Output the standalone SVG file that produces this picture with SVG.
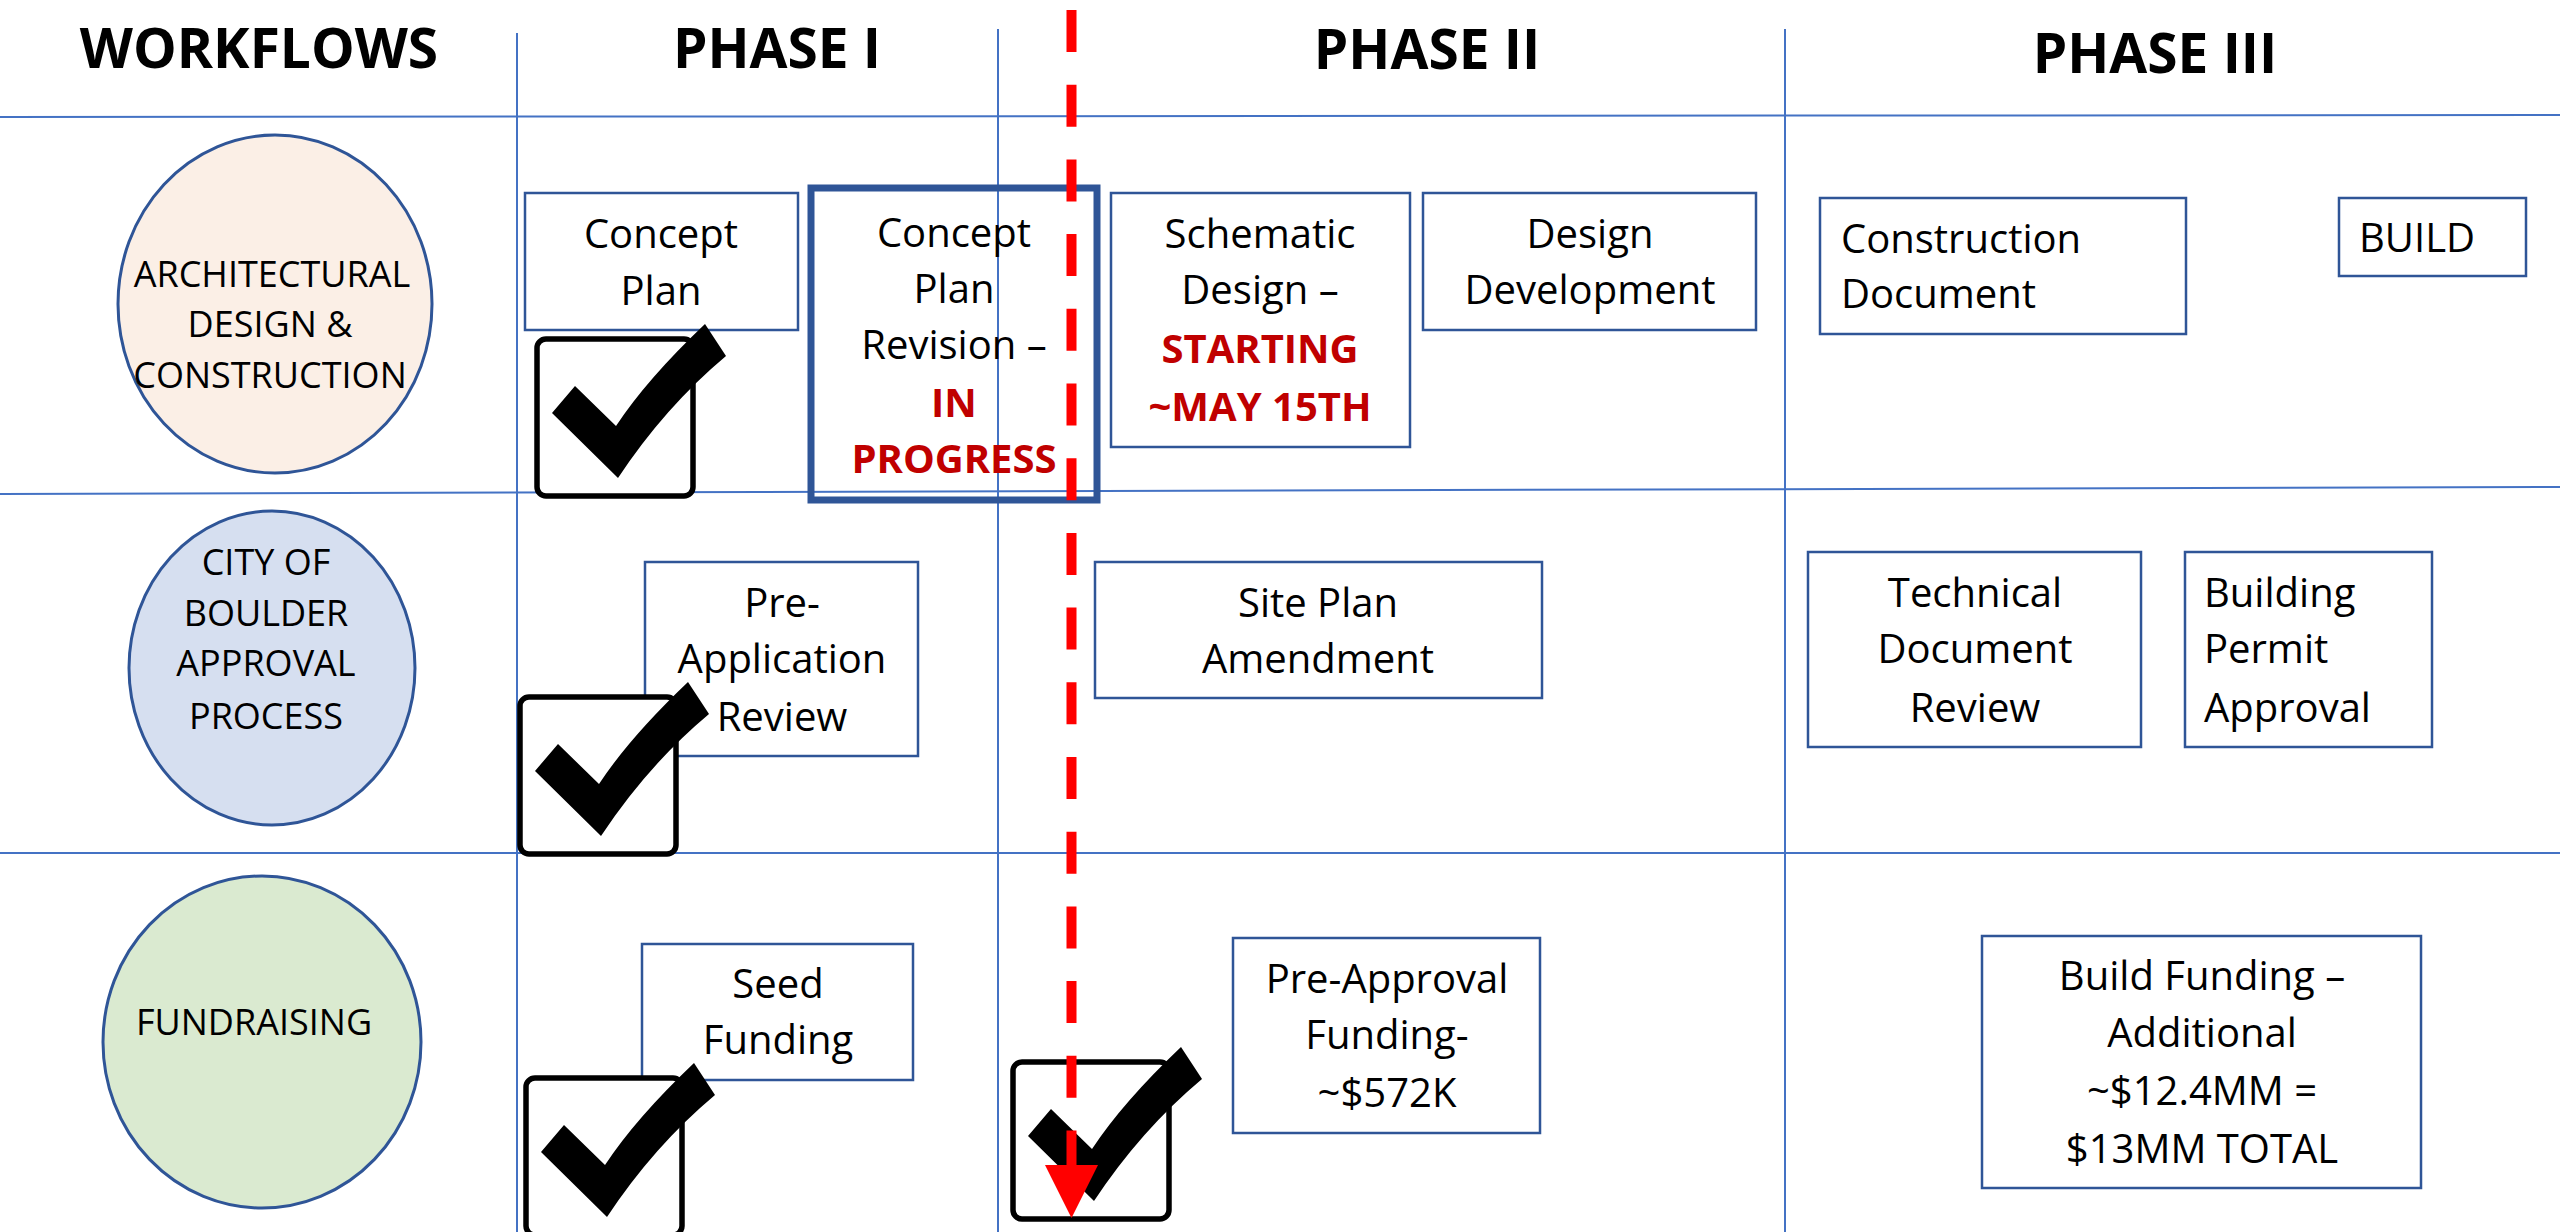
<svg xmlns="http://www.w3.org/2000/svg" xmlns:xlink="http://www.w3.org/1999/xlink" width="2560" height="1232" viewBox="0 0 2560 1232">
<style>
.grid{stroke:#4472C4;stroke-width:2;fill:none}
.hdr{font-family:"Open Sans","Liberation Sans",sans-serif;font-weight:700;font-size:55px;fill:#000;text-anchor:middle}
.ell{stroke:#2F5597;stroke-width:3}
.etx{font-family:"Open Sans","Liberation Sans",sans-serif;font-size:36px;fill:#000;text-anchor:middle}
.box{fill:#fff;stroke:#2F5597;stroke-width:2.5}
.tx{font-family:"Open Sans","Liberation Sans",sans-serif;font-size:40px;fill:#000;text-anchor:middle}
.txl{font-family:"Open Sans","Liberation Sans",sans-serif;font-size:40px;fill:#000}
.red{fill:#C00000;font-weight:700}
</style>
<defs>
<g id="chk">
<rect x="0" y="0" width="156" height="157" rx="9" fill="#fff" stroke="#000" stroke-width="5.5"/>
<path d="M15,74 L38,47 L79,87 Q110,40 168,-15 L189,17 Q128,68 81,139 Z" fill="#000"/>
</g>
</defs>
<rect width="2560" height="1232" fill="#fff"/>
<g id="grid">
<line class="grid" x1="0" y1="117" x2="2560" y2="115"/>
<line class="grid" x1="0" y1="494" x2="2560" y2="487"/>
<line class="grid" x1="0" y1="853" x2="2560" y2="853"/>
<line class="grid" x1="517" y1="33" x2="517" y2="1232" stroke-width="1.5"/>
<line class="grid" x1="998" y1="29" x2="998" y2="1232" stroke-width="1.5"/>
<line class="grid" x1="1785" y1="29" x2="1785" y2="1232" stroke-width="1.5"/>
</g>
<g id="headers">
<text class="hdr" x="259" y="68">WORKFLOWS</text>
<text class="hdr" x="777" y="68">PHASE I</text>
<text class="hdr" x="1427" y="69">PHASE II</text>
<text class="hdr" x="2155" y="73">PHASE III</text>
</g>
<g id="wf-arch">
<ellipse class="ell" cx="275" cy="304" rx="157" ry="169" fill="#FBEFE6"/>
<text class="etx" x="272" y="287">ARCHITECTURAL</text>
<text class="etx" x="270" y="337">DESIGN &amp;</text>
<text class="etx" x="270" y="388">CONSTRUCTION</text>
</g>
<g id="wf-city">
<ellipse class="ell" cx="272" cy="668" rx="143" ry="157" fill="#D6DFF0"/>
<text class="etx" x="266" y="575">CITY OF</text>
<text class="etx" x="266" y="626">BOULDER</text>
<text class="etx" x="266" y="676">APPROVAL</text>
<text class="etx" x="266" y="729">PROCESS</text>
</g>
<g id="wf-fund">
<ellipse class="ell" cx="262" cy="1042" rx="159" ry="166" fill="#DAEAD0"/>
<text class="etx" x="254" y="1035">FUNDRAISING</text>
</g>
<g id="concept-plan">
<rect class="box" x="525" y="193" width="273" height="137"/>
<text class="tx" x="661" y="248">Concept</text>
<text class="tx" x="661" y="305">Plan</text>
</g>
<g id="concept-revision">
<rect x="811" y="188" width="286" height="312" fill="none" stroke="#2F5597" stroke-width="7"/>
<text class="tx" x="954" y="247">Concept</text>
<text class="tx" x="954" y="303">Plan</text>
<text class="tx" x="954" y="359">Revision –</text>
<text class="tx red" x="954" y="417">IN</text>
<text class="tx red" x="954" y="473">PROGRESS</text>
</g>
<g id="schematic">
<rect class="box" x="1111" y="193" width="299" height="254"/>
<text class="tx" x="1260" y="248">Schematic</text>
<text class="tx" x="1260" y="304">Design –</text>
<text class="tx red" x="1260" y="363">STARTING</text>
<text class="tx red" x="1260" y="421">~MAY 15TH</text>
</g>
<g id="design-dev">
<rect class="box" x="1423" y="193" width="333" height="137"/>
<text class="tx" x="1590" y="248">Design</text>
<text class="tx" x="1590" y="304">Development</text>
</g>
<g id="construction-doc">
<rect class="box" x="1820" y="198" width="366" height="136"/>
<text class="txl" x="1841" y="253">Construction</text>
<text class="txl" x="1841" y="308">Document</text>
</g>
<g id="build">
<rect class="box" x="2339" y="198" width="187" height="78"/>
<text class="txl" x="2359" y="252">BUILD</text>
</g>
<g id="pre-app">
<rect class="box" x="645" y="562" width="273" height="194"/>
<text class="tx" x="782" y="617">Pre-</text>
<text class="tx" x="782" y="673">Application</text>
<text class="tx" x="782" y="731">Review</text>
</g>
<g id="site-plan">
<rect class="box" x="1095" y="562" width="447" height="136"/>
<text class="tx" x="1318" y="617">Site Plan</text>
<text class="tx" x="1318" y="673">Amendment</text>
</g>
<g id="tech-review">
<rect class="box" x="1808" y="552" width="333" height="195"/>
<text class="tx" x="1975" y="607">Technical</text>
<text class="tx" x="1975" y="663">Document</text>
<text class="tx" x="1975" y="722">Review</text>
</g>
<g id="permit">
<rect class="box" x="2185" y="552" width="247" height="195"/>
<text class="txl" x="2204" y="607">Building</text>
<text class="txl" x="2204" y="663">Permit</text>
<text class="txl" x="2204" y="722">Approval</text>
</g>
<g id="seed">
<rect class="box" x="642" y="944" width="271" height="136"/>
<text class="tx" x="778" y="998">Seed</text>
<text class="tx" x="778" y="1054">Funding</text>
</g>
<g id="pre-approval-funding">
<rect class="box" x="1233" y="938" width="307" height="195"/>
<text class="tx" x="1387" y="993">Pre-Approval</text>
<text class="tx" x="1387" y="1049">Funding-</text>
<text class="tx" x="1387" y="1107">~$572K</text>
</g>
<g id="build-funding">
<rect class="box" x="1982" y="936" width="439" height="252"/>
<text class="tx" x="2202" y="990">Build Funding –</text>
<text class="tx" x="2202" y="1047">Additional</text>
<text class="tx" x="2202" y="1105">~$12.4MM =</text>
<text class="tx" x="2202" y="1163">$13MM TOTAL</text>
</g>
<g id="check-1"><use xlink:href="#chk" href="#chk" transform="translate(537,339)"/></g>
<g id="check-2"><use xlink:href="#chk" href="#chk" transform="translate(520,697)"/></g>
<g id="check-3"><use xlink:href="#chk" href="#chk" transform="translate(526,1078)"/></g>
<g id="check-4"><use xlink:href="#chk" href="#chk" transform="translate(1013,1062)"/></g>
<g id="connectors">
<path d="M1071.5,10 V1166" stroke="#FF0000" stroke-width="10" stroke-dasharray="42 32.7" fill="none"/>
<polygon points="1045,1165 1098,1165 1071.5,1218" fill="#FF0000"/>
</g>
</svg>
